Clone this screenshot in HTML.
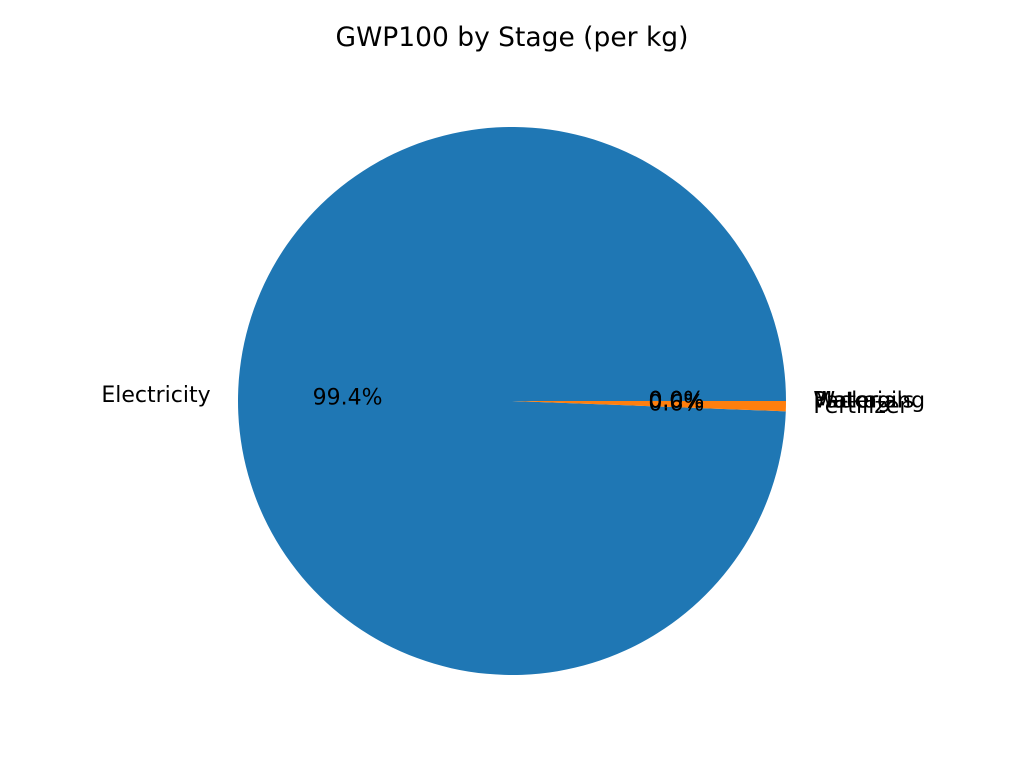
<!DOCTYPE html>
<html><head><meta charset="utf-8"><style>
html,body{margin:0;padding:0;background:#fff;}
svg{display:block;font-family:"DejaVu Sans","Liberation Sans",sans-serif;}
</style></head><body>
<svg id="chart" width="1024" height="768" viewBox="0 0 1024 768">
<rect width="1024" height="768" fill="#fff"/>
<text x="512" y="46" text-anchor="middle" font-size="26.5" fill="#000">GWP100 by Stage (per kg)</text>
<g id="slices"></g><g id="labels"></g>
</svg>
<script>
const categories = ["Electricity","Fertilizer","Materials","Packaging","Water"];
const values = [99.4, 0.6, 0.0, 0.0, 0.0];
const colors = ["#1f77b4","#ff7f0e","#2ca02c","#d62728","#9467bd"];
const cx = 512, cy = 401, R = 274;
const ns = "http://www.w3.org/2000/svg";
const total = values.reduce((a,b)=>a+b,0);
const sg = document.getElementById('slices'), lg = document.getElementById('labels');
function pt(deg, r){ const a = deg*Math.PI/180; return [cx + r*Math.cos(a), cy - r*Math.sin(a)]; }
let start = 0;
categories.forEach((c,i)=>{
  const sweep = values[i]/total*360;
  const end = start + sweep;
  if (sweep > 0) {
    const p = document.createElementNS(ns,'path');
    const [x1,y1] = pt(start,R), [x2,y2] = pt(end,R);
    const large = sweep > 180 ? 1 : 0;
    p.setAttribute('d', `M${cx},${cy} L${x1},${y1} A${R},${R} 0 ${large} 0 ${x2},${y2} Z`);
    p.setAttribute('fill', colors[i]);
    
    
    sg.appendChild(p);
  }
  const mid = (start+end)/2;
  const [lx,ly] = pt(mid, R*1.1);
  const t = document.createElementNS(ns,'text');
  t.setAttribute('x', lx); t.setAttribute('y', ly);
  t.setAttribute('font-size','22');
  t.setAttribute('dominant-baseline','central');
  t.setAttribute('text-anchor', Math.cos(mid*Math.PI/180) >= 0 ? 'start' : 'end');
  t.textContent = c;
  
  
  lg.appendChild(t);
  const [px,py] = pt(mid, R*0.6);
  const q = document.createElementNS(ns,'text');
  q.setAttribute('x', px); q.setAttribute('y', py);
  q.setAttribute('font-size','22');
  q.setAttribute('dominant-baseline','central');
  q.setAttribute('text-anchor','middle');
  q.textContent = (values[i]/total*100).toFixed(1) + '%';
  
  
  lg.appendChild(q);
  start = end;
});
</script>
</body></html>
